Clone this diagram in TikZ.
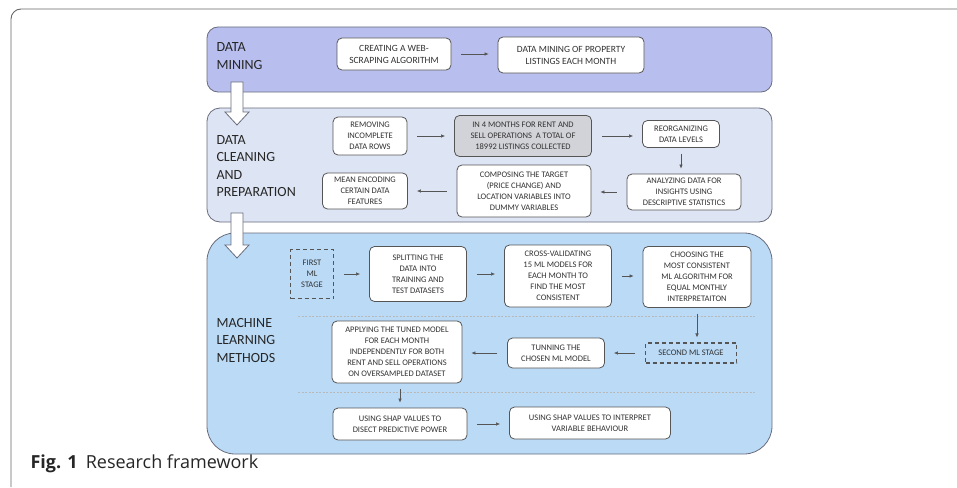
\documentclass[tikz,border=0pt]{standalone}
\usepackage{fontspec}
\setmainfont{Carlito}
\newfontfamily\capfont{Open Sans}
\usetikzlibrary{arrows.meta,positioning}

\definecolor{minefill}{RGB}{184,190,238}
\definecolor{cleanfill}{RGB}{221,228,243}
\definecolor{learnfill}{RGB}{186,218,246}
\definecolor{bandline}{RGB}{105,108,125}
\definecolor{boxline}{RGB}{85,85,85}
\definecolor{boxtext}{RGB}{50,50,50}
\definecolor{graybox}{RGB}{210,211,216}

\begin{document}
\begin{tikzpicture}[x=1pt, y=-1pt,
  band/.style={rectangle, draw=bandline, thick, rounded corners=11pt},
  bandlabel/.style={anchor=west, align=left, font=\fontsize{14}{17.5}\selectfont, text=black!85},
  box/.style={rectangle, draw=boxline, line width=0.8pt, rounded corners=5pt, fill=white, align=center, text=boxtext, font=\fontsize{8.5}{11}\selectfont, inner sep=1pt},
  bigbox/.style={box, font=\fontsize{9.5}{12}\selectfont},
  stagebox/.style={rectangle, draw=boxline, line width=1.1pt, dash pattern=on 4pt off 3pt, align=center, text=boxtext, font=\fontsize{8.5}{11}\selectfont, inner sep=1pt},
  arrow/.style={-{Latex[length=4pt,width=3.5pt]}, line width=0.6pt, draw=boxline, shorten >=9pt, shorten <=10pt},
  downarrow/.style={arrow, shorten >=5pt, shorten <=6pt},
  sep/.style={draw=gray!55, dash pattern=on 2pt off 1.5pt, line width=0.8pt},
  hollow/.style={draw=bandline, fill=white, line width=0.8pt}
]
  \useasboundingbox (0,0) rectangle (957,487);

  % page frame
  \draw[gray!80!black, line width=0.9pt, rounded corners=10pt] (957,9) -- (11,9) -- (11,487);

  % the three stages
  \node[band, fill=minefill, minimum width=565pt, minimum height=65pt] (mining) at (489.5,59.5) {};
  \node[band, fill=cleanfill, minimum width=565pt, minimum height=114pt, rounded corners=13pt] (cleaning) at (489.5,165) {};
  \node[band, fill=learnfill, minimum width=565pt, minimum height=221pt, rounded corners=28pt] (learning) at (489.5,343.5) {};

  \node[bandlabel] (mininglabel) at (213,56) {DATA\\MINING};
  \node[bandlabel] (cleaninglabel) at (213,166) {DATA\\CLEANING\\AND\\PREPARATION};
  \node[bandlabel] (learninglabel) at (213,340) {MACHINE\\LEARNING\\METHODS};

  % hollow arrows between stages
  \draw[hollow] (231,82) -- (243,82) -- (243,112) -- (249,112) -- (237,125) -- (225,112) -- (231,112) -- cycle;
  \draw[hollow] (231,213) -- (243,213) -- (243,245) -- (249,245) -- (237,258) -- (225,245) -- (231,245) -- cycle;

  % data mining
  \node[bigbox, minimum width=114pt, minimum height=32pt] (create) at (394,54) {CREATING A WEB-\\SCRAPING ALGORITHM};
  \node[bigbox, minimum width=146pt, minimum height=36pt] (listing) at (571,55) {DATA MINING OF PROPERTY\\LISTINGS EACH MONTH};
  \draw[arrow] (create.east) -- (create.east -| listing.west);

  % data cleaning and preparation
  \node[box, minimum width=74pt, minimum height=38pt] (remove) at (370,136) {REMOVING\\INCOMPLETE\\DATA ROWS};
  \node[box, fill=graybox, minimum width=137pt, minimum height=41pt] (collect) at (523,136) {IN 4 MONTHS FOR RENT AND\\SELL OPERATIONS\ \ A TOTAL OF\\18992 LISTINGS COLLECTED};
  \node[box, minimum width=77pt, minimum height=27pt] (reorg) at (681,134) {REORGANIZING\\DATA LEVELS};
  \node[box, minimum width=114pt, minimum height=36pt] (analyze) at (684,192) {ANALYZING DATA FOR\\INSIGHTS USING\\DESCRIPTIVE STATISTICS};
  \node[box, minimum width=134pt, minimum height=52pt] (compose) at (524,191) {COMPOSING THE TARGET\\(PRICE CHANGE) AND\\LOCATION VARIABLES INTO\\DUMMY VARIABLES};
  \node[box, minimum width=85pt, minimum height=36pt] (encode) at (365,191) {MEAN ENCODING\\CERTAIN DATA\\FEATURES};
  \draw[arrow] (remove.east) -- (remove.east -| collect.west);
  \draw[arrow] (collect.east) -- (collect.east -| reorg.west);
  \draw[downarrow] (reorg.south) -- (reorg.south |- analyze.north);
  \draw[arrow] (analyze.west) -- (analyze.west -| compose.east);
  \draw[arrow] (compose.west) -- (compose.west -| encode.east);

  % machine learning methods
  \node[stagebox, minimum width=43pt, minimum height=49pt] (first) at (312,274) {FIRST\\ML\\STAGE};
  \node[box, minimum width=97pt, minimum height=55pt] (split) at (418,274) {SPLITTING THE\\DATA INTO\\TRAINING AND\\TEST DATASETS};
  \node[box, minimum width=107pt, minimum height=62pt] (crossval) at (558,276) {CROSS-VALIDATING\\15 ML MODELS FOR\\EACH MONTH TO\\FIND THE MOST\\CONSISTENT};
  \node[box, minimum width=108pt, minimum height=61pt] (choose) at (697,277) {CHOOSING THE\\MOST CONSISTENT\\ML ALGORITHM FOR\\EQUAL MONTHLY\\INTERPRETAITON};
  \draw[arrow] (first.east) -- (first.east -| split.west);
  \draw[arrow] (split.east) -- (split.east -| crossval.west);
  \draw[arrow] (crossval.east) -- (crossval.east -| choose.west);

  \draw[sep] (298,316) -- (755,316);

  \node[stagebox, minimum width=91pt, minimum height=20pt] (second) at (691,353) {SECOND ML STAGE};
  \node[box, minimum width=97pt, minimum height=30pt] (tune) at (556,353) {TUNNING THE\\CHOSEN ML MODEL};
  \node[box, minimum width=130pt, minimum height=62pt] (apply) at (397,352) {APPLYING THE TUNED MODEL\\FOR EACH MONTH\\INDEPENDENTLY FOR BOTH\\RENT AND SELL OPERATIONS\\ON OVERSAMPLED DATASET};
  \draw[downarrow] (choose.south) -- (choose.south |- second.north);
  \draw[arrow] (second.west) -- (second.west -| tune.east);
  \draw[arrow] (tune.west) -- (tune.west -| apply.east);

  \draw[sep] (298,392) -- (755,392);

  \node[box, minimum width=134pt, minimum height=32pt] (shapa) at (400,424) {USING SHAP VALUES TO\\DISECT PREDICTIVE POWER};
  \node[box, minimum width=161pt, minimum height=32pt] (shapb) at (590,423) {USING SHAP VALUES TO INTERPRET\\VARIABLE BEHAVIOUR};
  \draw[downarrow] (shapa.north |- apply.south) -- (shapa.north);
  \draw[arrow] (shapa.east) -- (shapa.east -| shapb.west);

  % caption
  \node[anchor=west, font=\capfont\fontsize{18}{21}\selectfont, text=black!85] (caption) at (27,464) {\textbf{Fig. 1}\hspace{0.45em}Research framework};
\end{tikzpicture}
\end{document}
